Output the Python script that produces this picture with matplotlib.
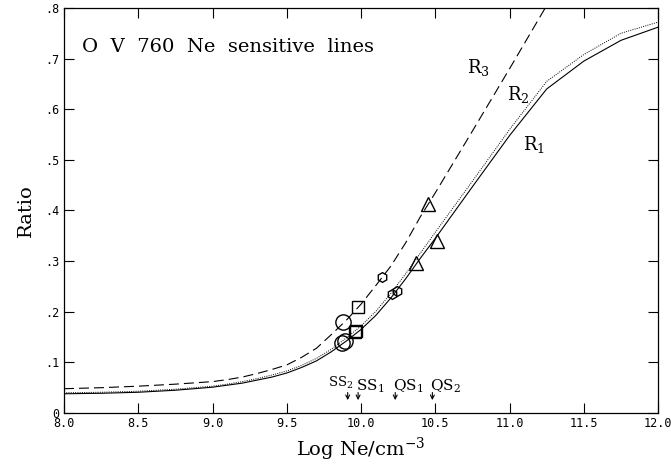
import matplotlib
matplotlib.use('Agg')
import matplotlib.pyplot as plt

plt.rcParams['font.family'] = 'DejaVu Serif'
plt.rcParams['mathtext.fontset'] = 'dejavuserif'

# ---- data ----
log_ne = [8.0, 8.25, 8.5, 8.75, 9.0, 9.1, 9.2, 9.3, 9.4, 9.5, 9.6, 9.7, 9.8,
          9.9, 10.0, 10.1, 10.2, 10.3, 10.4, 10.5, 10.75, 11.0, 11.25, 11.5,
          11.75, 12.0]
r1 = [0.038, 0.039, 0.041, 0.045, 0.051, 0.055, 0.059, 0.065, 0.071, 0.079,
      0.090, 0.103, 0.121, 0.142, 0.165, 0.193, 0.227, 0.265, 0.306, 0.345,
      0.447, 0.548, 0.640, 0.695, 0.736, 0.762]
r2 = [0.040, 0.041, 0.043, 0.047, 0.053, 0.057, 0.062, 0.068, 0.075, 0.083,
      0.094, 0.108, 0.126, 0.148, 0.172, 0.201, 0.236, 0.275, 0.316, 0.357,
      0.458, 0.560, 0.655, 0.708, 0.750, 0.772]
r3 = [0.048, 0.050, 0.053, 0.057, 0.062, 0.066, 0.071, 0.078, 0.086, 0.095,
      0.110, 0.128, 0.155, 0.183, 0.215, 0.252, 0.290, 0.336, 0.388, 0.435,
      0.557, 0.680, 0.805, 0.900, 0.950, 1.000]

# observed points (dashed curve first, then the two lower curves)
circle_x = [9.88, 9.875, 9.89]
circle_y = [0.180, 0.138, 0.142]
square_x = [9.98, 9.96, 9.967]
square_y = [0.209, 0.160, 0.162]
hex_x = [10.14, 10.21, 10.24]
hex_y = [0.268, 0.235, 0.241]
tri_x = [10.45, 10.37, 10.51]
tri_y = [0.413, 0.296, 0.340]

# density markers along the bottom
mark_names = [r'SS$_2$', r'SS$_1$', r'QS$_1$', r'QS$_2$']
mark_x = [9.91, 9.98, 10.23, 10.48]

fig = plt.figure(figsize=(6.71, 4.66), dpi=100)
ax = fig.add_axes([0.0954, 0.1137, 0.8854, 0.8693])

ax.plot(log_ne, r1, '-', color='black', lw=0.8)
ax.plot(log_ne, r2, color='black', lw=0.7, linestyle=(0, (1, 1.3)))
ax.plot(log_ne, r3, color='black', lw=0.8, linestyle=(0, (9, 4.5)))

mk = dict(linestyle='none', mfc='none', mec='black', mew=1.0)
ax.plot(circle_x, circle_y, marker='o', ms=11, **mk)
ax.plot(square_x, square_y, marker='s', ms=9, **mk)
ax.plot(hex_x, hex_y, marker='h', ms=7, **mk)
ax.plot(tri_x, tri_y, marker='^', ms=10, **mk)

# curve labels
ax.text(10.71, 0.683, r'R$_3$', fontsize=13, va='center', ha='left')
ax.text(10.98, 0.630, r'R$_2$', fontsize=13, va='center', ha='left')
ax.text(11.09, 0.530, r'R$_1$', fontsize=13, va='center', ha='left')

# arrows with labels
for i, (name, x) in enumerate(zip(mark_names, mark_x)):
    ax.annotate('', xy=(x, 0.020), xytext=(x, 0.046),
                arrowprops=dict(arrowstyle='->', color='black', lw=0.8,
                                mutation_scale=7))
    if i == 0:
        ax.text(x - 0.045, 0.060, name, fontsize=9.5, ha='center', va='center')
    else:
        ax.text(x - 0.015, 0.053, name, fontsize=11, ha='left', va='center')

ax.text(8.12, 0.722, 'O  V  760  Ne  sensitive  lines', fontsize=14,
        ha='left', va='center')

ax.set_xlim(8.0, 12.0)
ax.set_ylim(0, 0.8)
ax.set_xticks([8.0, 8.5, 9.0, 9.5, 10.0, 10.5, 11.0, 11.5, 12.0])
ax.set_xticklabels(['8.0', '8.5', '9.0', '9.5', '10.0', '10.5', '11.0',
                    '11.5', '12.0'], family='DejaVu Sans Mono', fontsize=8.5)
yt = [0, 0.1, 0.2, 0.3, 0.4, 0.5, 0.6, 0.7, 0.8]
ax.set_yticks(yt)
ax.set_yticklabels(['0' if v == 0 else f'{v:.1f}'[1:] for v in yt],
                   family='DejaVu Sans Mono', fontsize=8.5)
ax.tick_params(direction='in', length=7, width=0.8, top=True, right=True,
               pad=3)
for s in ax.spines.values():
    s.set_linewidth(0.9)

ax.set_xlabel(r'Log Ne/cm$^{-3}$', fontsize=14, labelpad=4)
ax.set_ylabel('Ratio', fontsize=14, labelpad=8)

fig.savefig('out.png', dpi=100)
